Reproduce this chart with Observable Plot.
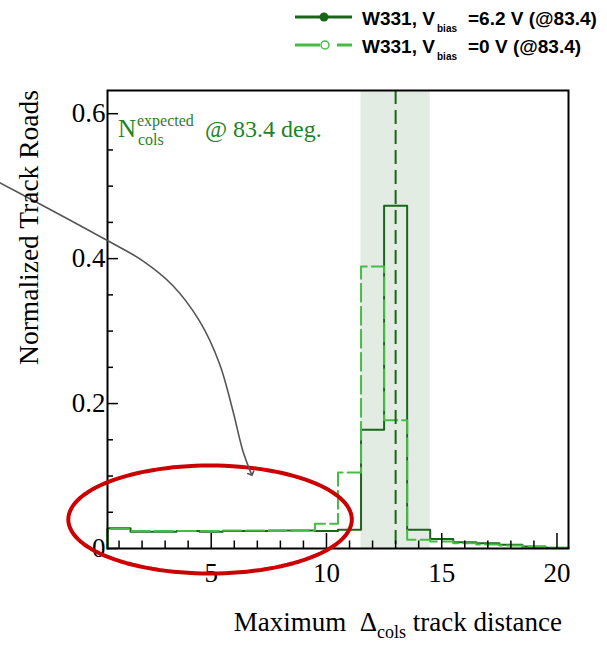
<!DOCTYPE html>
<html>
<head>
<meta charset="utf-8">
<script src="https://cdn.jsdelivr.net/npm/d3@7"></script>
<script src="https://cdn.jsdelivr.net/npm/@observablehq/plot@0.6"></script>
<style>
  html, body { margin: 0; padding: 0; background: #fff; }
  #chart svg { display: block; }
</style>
</head>
<body>
<div id="chart"></div>
<script>
// Bin centres: unit-width bins spanning 0.5 .. 20.5
const bins = [1, 2, 3, 4, 5, 6, 7, 8, 9, 10, 11, 12, 13, 14, 15, 16, 17, 18, 19, 20];
// W331, Vbias = 6.2 V (@83.4 deg), normalised track roads per bin
const vbias62 = [0.028, 0.023, 0.023, 0.024, 0.023, 0.024, 0.024, 0.025, 0.025, 0.024,
                 0.026, 0.164, 0.473, 0.026, 0.013, 0.0087, 0.0073, 0.0051, 0.0028, 0.001];
// W331, Vbias = 0 V (@83.4 deg)
const vbias0 = [0.027, 0.024, 0.024, 0.024, 0.024, 0.025, 0.025, 0.024, 0.025, 0.034,
                0.105, 0.389, 0.177, 0.012, 0.0096, 0.0073, 0.0055, 0.0041, 0.0023, 0.0008];
const seriesLabels = [
  ["W331, V", "bias", "=6.2 V (@83.4)"],
  ["W331, V", "bias", "=0 V (@83.4)"]
];
// Expected number of columns at 83.4 deg and its uncertainty band
const expectedCols = 13;
const expectedBand = [11.5, 14.5];

const xTicks = [5, 10, 15, 20];
const xMinorTicks = [1, 2, 3, 4, 6, 7, 8, 9, 11, 12, 13, 14, 16, 17, 18, 19];
const yTicks = [0, 0.2, 0.4, 0.6];
const yTickLabels = ["0", "0.2", "0.4", "0.6"];
const yMinorTicks = [0.05, 0.1, 0.15, 0.25, 0.3, 0.35, 0.45, 0.5, 0.55];

// Highlighted low-distance region and the pointer into it (data coordinates)
const highlight = {cx: 4.95, cy: 0.04, rx: 6.15, ry: 0.0745};
const pointerPath = [
  [-4.2, 0.505], [-2.76, 0.481], [0.435, 0.426], [2.03, 0.397], [3.33, 0.363],
  [4.49, 0.314], [5.36, 0.255], [5.94, 0.19], [6.37, 0.135], [6.74, 0.103]
];

const DARK = "#1b651b";
const LIGHT = "#45bd45";
const BAND = "#e3ece3";
const TEXT_GREEN = "#1f831f";
const SERIF = "'Liberation Serif', 'Times New Roman', serif";
const SANS = "'Liberation Sans', Arial, Helvetica, sans-serif";

const W = 607, H = 648;
const mL = 107, mR = 39, mT = 90, mB = 100;
const innerW = W - mL - mR, innerH = H - mT - mB;

// Histogram outline: rise at the first edge, then one flat step per bin
function outline(values) {
  const pts = [{x: bins[0] - 0.5, y: 0}];
  values.forEach((v, i) => pts.push({x: bins[i] - 0.5, y: v}));
  pts.push({x: bins[bins.length - 1] + 0.5, y: values[values.length - 1]});
  return pts;
}

const ellipsePts = d3.range(0, 121).map(i => {
  const t = (i / 120) * 2 * Math.PI;
  return {x: highlight.cx + highlight.rx * Math.cos(t), y: highlight.cy + highlight.ry * Math.sin(t)};
});

const plot = Plot.plot({
  width: W,
  height: H,
  marginLeft: mL,
  marginRight: mR,
  marginTop: mT,
  marginBottom: mB,
  style: {fontFamily: SERIF, background: "#fff", overflow: "visible"},
  x: {domain: [0.5, 20.5]},
  y: {domain: [0, 0.632]},
  marks: [
    Plot.rect([expectedBand], {x1: d => d[0], x2: d => d[1], y1: 0, y2: 0.632, fill: BAND}),
    Plot.line(outline(vbias62), {x: "x", y: "y", curve: "step-after", stroke: DARK, strokeWidth: 2}),
    Plot.line(outline(vbias0), {x: "x", y: "y", curve: "step-after", stroke: LIGHT, strokeWidth: 2, strokeDasharray: "18,5"}),
    Plot.ruleX([expectedCols], {stroke: DARK, strokeWidth: 2, strokeDasharray: "14,6"}),
    // inward ticks
    Plot.ruleX(xTicks, {stroke: "#000", strokeWidth: 1.5, insetTop: innerH - 15}),
    Plot.ruleX(xMinorTicks, {stroke: "#000", strokeWidth: 1.5, insetTop: innerH - 7.5}),
    Plot.ruleY(yTicks, {stroke: "#000", strokeWidth: 1.5, insetRight: innerW - 11}),
    Plot.ruleY(yMinorTicks, {stroke: "#000", strokeWidth: 1.5, insetRight: innerW - 6}),
    Plot.frame({stroke: "#000", strokeWidth: 2}),
    Plot.axisX(xTicks, {tickSize: 0, tickPadding: 14, fontSize: 27, fontFamily: SERIF, fill: "#000", label: null}),
    Plot.axisY(yTicks, {tickSize: 0, tickPadding: 2, fontSize: 27, fontFamily: SERIF, fill: "#000", label: null,
      tickFormat: d => yTickLabels[yTicks.indexOf(d)]}),
    Plot.line(ellipsePts, {x: "x", y: "y", curve: "linear-closed", stroke: "#cc0000", strokeWidth: 4}),
    Plot.line(pointerPath, {x: d => d[0], y: d => d[1], curve: "catmull-rom", stroke: "#555", strokeWidth: 1.6, markerEnd: "arrow"})
  ]
});

const svg = d3.select(plot);

// Axis titles
svg.append("text")
  .attr("transform", `translate(38,${mT}) rotate(-90)`)
  .attr("text-anchor", "end")
  .attr("font-family", SERIF).attr("font-size", 27.5).attr("fill", "#000")
  .text("Normalized Track Roads");

const xt = svg.append("text")
  .attr("x", 562).attr("y", 631)
  .attr("text-anchor", "end")
  .attr("font-family", SERIF).attr("font-size", 27).attr("fill", "#000");
xt.append("tspan").text("Maximum\u00a0\u00a0\u0394");
xt.append("tspan").attr("font-size", 18).attr("dy", 7).text("cols");
xt.append("tspan").attr("dy", -7).text(" track distance");

// Annotation for the expected column count
const ann = svg.append("g").attr("font-family", SERIF).attr("fill", TEXT_GREEN).attr("text-anchor", "start");
ann.append("text").attr("x", mL + 11).attr("y", mT + 47).attr("font-size", 25).text("N");
ann.append("text").attr("x", mL + 30).attr("y", mT + 36).attr("font-size", 16).text("expected");
ann.append("text").attr("x", mL + 31).attr("y", mT + 55).attr("font-size", 16).text("cols");
ann.append("text").attr("x", mL + 98).attr("y", mT + 47).attr("font-size", 24).text("@ 83.4 deg.");

// Legend
const lg = svg.append("g").attr("font-family", SANS).attr("font-weight", "bold")
  .attr("fill", "#000").attr("text-anchor", "start");
[[DARK, 17, 25, true], [LIGHT, 45, 53, false]].forEach(([color, ly, base, filled], i) => {
  if (filled) {
    lg.append("line").attr("x1", 295).attr("x2", 352).attr("y1", ly).attr("y2", ly)
      .attr("stroke", color).attr("stroke-width", 3);
    lg.append("circle").attr("cx", 324).attr("cy", ly).attr("r", 4.5).attr("fill", color);
  } else {
    lg.append("line").attr("x1", 295).attr("x2", 320).attr("y1", ly).attr("y2", ly)
      .attr("stroke", color).attr("stroke-width", 3);
    lg.append("line").attr("x1", 337).attr("x2", 352).attr("y1", ly).attr("y2", ly)
      .attr("stroke", color).attr("stroke-width", 3);
    lg.append("circle").attr("cx", 325).attr("cy", ly).attr("r", 4).attr("fill", "none")
      .attr("stroke", color).attr("stroke-width", 1.5);
  }
  const [a, sub, b] = seriesLabels[i];
  lg.append("text").attr("x", 362).attr("y", base).attr("font-size", 19).text(a);
  lg.append("text").attr("x", 437).attr("y", base + 7).attr("font-size", 10).text(sub);
  lg.append("text").attr("x", 468).attr("y", base).attr("font-size", 19).text(b);
});

document.getElementById("chart").appendChild(plot);
</script>
</body>
</html>
